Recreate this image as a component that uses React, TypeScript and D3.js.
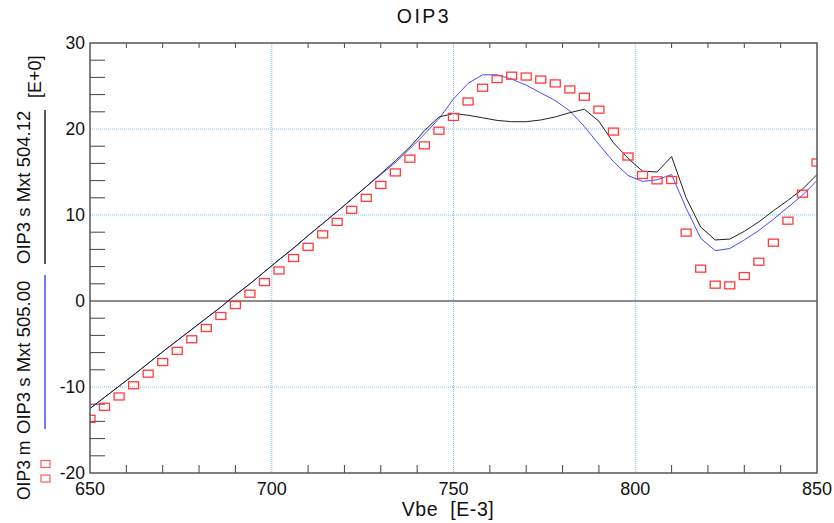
import * as d3 from "d3";

// Vbe sample points [E-3]
const vbe = [
  650, 654, 658, 662, 666, 670, 674, 678, 682, 686, 690, 694, 698, 702, 706, 710, 714,
  718, 722, 726, 730, 734, 738, 742, 746, 750, 754, 758, 762, 766, 770, 774, 778, 782,
  786, 790, 794, 798, 802, 806, 810, 814, 818, 822, 826, 830, 834, 838, 842, 846, 850,
];

// OIP3 m (measured, red squares)
const oip3m = [
  -13.7, -12.3, -11.1, -9.8, -8.45, -7.1, -5.8, -4.45, -3.14, -1.74, -0.47, 0.85, 2.2,
  3.55, 5.0, 6.3, 7.75, 9.2, 10.6, 12.0, 13.5, 14.95, 16.55, 18.1, 19.8, 21.4, 23.2, 24.8,
  25.8, 26.2, 26.1, 25.75, 25.3, 24.6, 23.75, 22.25, 19.7, 16.8, 14.65, 14.03, 14.07, 7.95,
  3.76, 1.9, 1.82, 2.9, 4.57, 6.78, 9.34, 12.48, 16.1,
];

// OIP3 s Mxt 504.12 (black)
const oip3s504 = [
  -12.5, -11.2, -9.9, -8.6, -7.25, -5.9, -4.6, -3.3, -2.0, -0.7, 0.7, 2.0, 3.4, 4.8, 6.15,
  7.6, 9.0, 10.4, 11.85, 13.3, 14.8, 16.3, 17.9, 19.8, 21.4, 21.8, 21.6, 21.3, 21.0, 20.85,
  20.85, 21.05, 21.4, 21.9, 22.3, 20.9, 18.4, 16.6, 15.1, 15.0, 16.8, 12.0, 8.6, 7.1, 7.2,
  8.1, 9.2, 10.5, 11.7, 13.0, 14.7,
];

// OIP3 s Mxt 505.00 (blue)
const oip3s505 = [
  -12.5, -11.2, -9.9, -8.6, -7.25, -5.9, -4.6, -3.3, -2.0, -0.7, 0.7, 2.0, 3.4, 4.8, 6.15,
  7.6, 9.0, 10.4, 11.85, 13.3, 14.7, 16.1, 17.7, 19.4, 21.2, 23.5, 25.3, 26.3, 26.3, 25.8,
  25.1, 24.2, 23.3, 22.1, 20.3, 18.2, 16.2, 14.6, 13.9, 14.1, 14.7, 10.8, 7.3, 5.85, 6.1,
  7.1, 8.2, 9.5, 10.9, 12.3, 14.0,
];

const xTicks = [650, 700, 750, 800, 850];
const yTicks = [-20, -10, 0, 10, 20, 30];
const xGrid = [700, 750, 800];
const yGrid = [-10, 10, 20];
const xMinor = [660, 670, 680, 690, 710, 720, 730, 740, 760, 770, 780, 790, 810, 820, 830, 840];
const yMinor = [-18, -16, -14, -12, -8, -6, -4, -2, 2, 4, 6, 8, 12, 14, 16, 18, 22, 24, 26, 28];

const FONT = "'Liberation Sans', Arial, sans-serif";

export default function App() {
  const width = 834, height = 523;
  const left = 90, right = 817, top = 43, bottom = 473;
  const x = d3.scaleLinear().domain([650, 850]).range([left, right]);
  const y = d3.scaleLinear().domain([-20, 30]).range([bottom, top]);

  const line = (vals: number[]) =>
    d3.line<number>().x((_, i) => x(vbe[i])).y((d) => y(d))(vals) || "";

  return (
    <svg width={width} height={height} style={{ position: "absolute", left: 0, top: 0, background: "#fff" }}>
      <defs>
        <clipPath id="plot">
          <rect x={left} y={top} width={right - left} height={bottom - top} />
        </clipPath>
      </defs>
      <rect width={width} height={height} fill="#fff" />

      {/* grid */}
      {xGrid.map((v) => (
        <line key={"gx" + v} x1={x(v)} x2={x(v)} y1={top} y2={bottom} stroke="#7cc4ec" strokeDasharray="1,1" />
      ))}
      {yGrid.map((v) => (
        <line key={"gy" + v} x1={left} x2={right} y1={y(v)} y2={y(v)} stroke="#7cc4ec" strokeDasharray="1,1" />
      ))}
      <line x1={left} x2={right} y1={y(0)} y2={y(0)} stroke="#666" strokeWidth={1.5} />

      {/* ticks */}
      {yMinor.map((v) => (
        <line key={"ty" + v} x1={left} x2={left + 15} y1={y(v)} y2={y(v)} stroke="#444" />
      ))}
      {xMinor.map((v) => (
        <line key={"tx" + v} x1={x(v)} x2={x(v)} y1={bottom} y2={bottom - 8} stroke="#444" />
      ))}
      {xMinor.map((v) => (
        <line key={"tt" + v} x1={x(v)} x2={x(v)} y1={top} y2={top + 5} stroke="#444" />
      ))}

      {/* series */}
      <g clipPath="url(#plot)">
        <path d={line(oip3s505)} fill="none" stroke="#4a4aff" strokeWidth={1} />
        <path d={line(oip3s504)} fill="none" stroke="#222" strokeWidth={1} />
        {oip3m.map((v, i) => (
          <rect key={"m" + i} x={x(vbe[i]) - 5} y={y(v) - 3.5} width={10} height={7}
            fill="none" stroke="#ff3b3b" strokeWidth={1.3} />
        ))}
      </g>

      {/* frame */}
      <rect x={left} y={top} width={right - left} height={bottom - top} fill="none" stroke="#555" strokeWidth={1.5} />

      {/* tick labels */}
      {yTicks.map((v) => (
        <text key={"ly" + v} x={left - 5} y={y(v)} dy="0.33em" textAnchor="end" fontFamily={FONT} fontSize={17.5} fill="#111">
          {v}
        </text>
      ))}
      {xTicks.map((v) => (
        <text key={"lx" + v} x={x(v)} y={495} textAnchor="middle" fontFamily={FONT} fontSize={18} fill="#111">
          {v}
        </text>
      ))}

      {/* titles */}
      <text x={424} y={23} textAnchor="middle" fontFamily={FONT} fontSize={19.5} letterSpacing={2.5} fill="#111">OIP3</text>
      <text x={448} y={516} textAnchor="middle" fontFamily={FONT} fontSize={19.5} letterSpacing={0.6} fill="#111" style={{ whiteSpace: "pre" }}>
        {"Vbe  [E-3]"}
      </text>

      {/* legend (rotated) */}
      <text transform="translate(30,500) rotate(-90)" fontFamily={FONT} fontSize={17.5} fill="#111">OIP3 m</text>
      <rect x={41} y={460.5} width={9} height={7} fill="none" stroke="#ff5a5a" strokeWidth={1.2} />
      <rect x={41} y={475} width={9} height={7} fill="none" stroke="#ff5a5a" strokeWidth={1.2} />

      <text transform="translate(30,434) rotate(-90)" fontFamily={FONT} fontSize={18.5} fill="#111">OIP3 s Mxt 505.00</text>
      <line x1={45} x2={45} y1={275} y2={429} stroke="#4a4aff" strokeWidth={1.5} />

      <text transform="translate(30,264) rotate(-90)" fontFamily={FONT} fontSize={18.5} fill="#111">OIP3 s Mxt 504.12</text>
      <line x1={45} x2={45} y1={110} y2={264} stroke="#222" strokeWidth={1.5} />

      <text transform="translate(41,98) rotate(-90)" fontFamily={FONT} fontSize={18} fill="#111">[E+0]</text>
    </svg>
  );
}
